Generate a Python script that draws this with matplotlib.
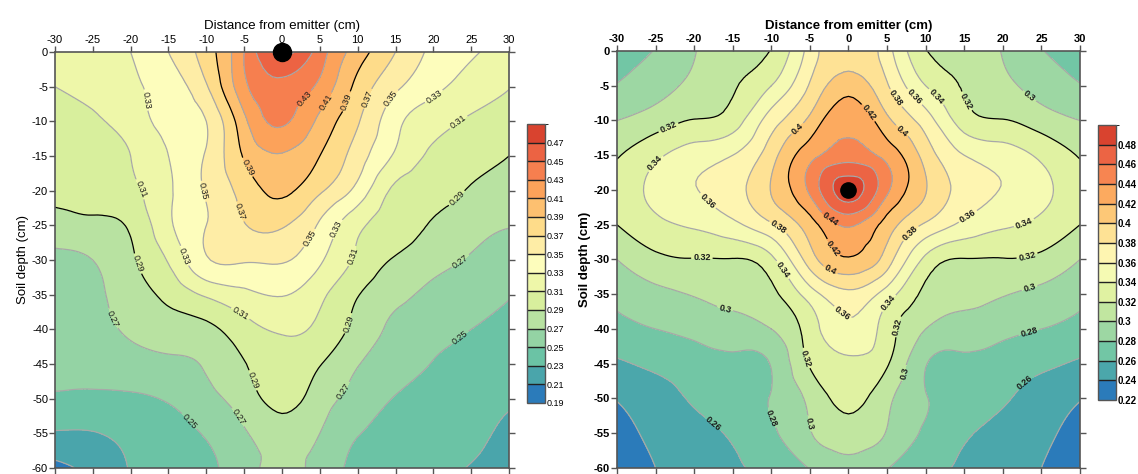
import numpy as np
import matplotlib
matplotlib.use("Agg")
import matplotlib.pyplot as plt
import matplotlib.tri as mtri
from matplotlib.colors import LinearSegmentedColormap, ListedColormap, BoundaryNorm

plt.rcParams['font.family'] = ['Liberation Sans', 'DejaVu Sans']
plt.rcParams['axes.unicode_minus'] = False

# grid nodes (cm)
distance = [-30, -25, -20, -15, -10, -5, 0, 5, 10, 15, 20, 25, 30]
depth = [0, -5, -10, -15, -20, -25, -30, -35, -40, -45, -50, -55, -60]

# soil water content, surface emitter (rows = depth, cols = distance)
theta_surface = [
    [0.320, 0.325, 0.330, 0.350, 0.380, 0.430, 0.475, 0.440, 0.400, 0.370, 0.345, 0.332, 0.324],
    [0.310, 0.315, 0.325, 0.340, 0.368, 0.425, 0.445, 0.425, 0.384, 0.354, 0.335, 0.322, 0.311],
    [0.305, 0.308, 0.319, 0.335, 0.350, 0.405, 0.433, 0.405, 0.372, 0.336, 0.318, 0.307, 0.300],
    [0.300, 0.303, 0.310, 0.330, 0.352, 0.392, 0.408, 0.390, 0.360, 0.327, 0.306, 0.297, 0.290],
    [0.296, 0.298, 0.305, 0.327, 0.352, 0.378, 0.394, 0.373, 0.343, 0.305, 0.297, 0.288, 0.283],
    [0.281, 0.285, 0.293, 0.326, 0.350, 0.369, 0.372, 0.347, 0.315, 0.298, 0.288, 0.277, 0.271],
    [0.266, 0.270, 0.287, 0.312, 0.348, 0.352, 0.352, 0.333, 0.306, 0.288, 0.277, 0.268, 0.260],
    [0.262, 0.266, 0.280, 0.295, 0.313, 0.325, 0.331, 0.315, 0.291, 0.275, 0.265, 0.258, 0.251],
    [0.258, 0.264, 0.273, 0.280, 0.285, 0.302, 0.313, 0.305, 0.283, 0.266, 0.257, 0.250, 0.245],
    [0.253, 0.258, 0.262, 0.266, 0.272, 0.289, 0.299, 0.291, 0.271, 0.260, 0.249, 0.242, 0.237],
    [0.248, 0.246, 0.247, 0.252, 0.264, 0.280, 0.296, 0.280, 0.262, 0.249, 0.243, 0.236, 0.232],
    [0.228, 0.229, 0.235, 0.241, 0.252, 0.268, 0.280, 0.270, 0.251, 0.245, 0.240, 0.234, 0.226],
    [0.205, 0.216, 0.231, 0.239, 0.246, 0.262, 0.276, 0.262, 0.246, 0.242, 0.236, 0.229, 0.222],
]

# soil water content, subsurface emitter at 20 cm
theta_subsurface = [
    [0.272, 0.281, 0.299, 0.311, 0.321, 0.368, 0.398, 0.368, 0.321, 0.311, 0.299, 0.281, 0.272],
    [0.281, 0.292, 0.305, 0.318, 0.340, 0.382, 0.410, 0.382, 0.340, 0.318, 0.305, 0.292, 0.281],
    [0.300, 0.310, 0.321, 0.330, 0.370, 0.405, 0.437, 0.405, 0.370, 0.330, 0.321, 0.310, 0.300],
    [0.318, 0.336, 0.350, 0.360, 0.392, 0.433, 0.450, 0.433, 0.392, 0.360, 0.350, 0.336, 0.318],
    [0.330, 0.345, 0.359, 0.372, 0.401, 0.444, 0.490, 0.444, 0.401, 0.372, 0.359, 0.345, 0.330],
    [0.320, 0.335, 0.343, 0.355, 0.377, 0.411, 0.443, 0.411, 0.377, 0.355, 0.343, 0.335, 0.320],
    [0.300, 0.315, 0.319, 0.319, 0.335, 0.390, 0.418, 0.390, 0.335, 0.319, 0.319, 0.315, 0.300],
    [0.285, 0.295, 0.301, 0.305, 0.315, 0.350, 0.375, 0.350, 0.315, 0.305, 0.301, 0.295, 0.285],
    [0.274, 0.280, 0.286, 0.292, 0.300, 0.330, 0.355, 0.330, 0.300, 0.292, 0.286, 0.280, 0.274],
    [0.257, 0.264, 0.270, 0.275, 0.281, 0.322, 0.336, 0.322, 0.281, 0.275, 0.270, 0.264, 0.257],
    [0.241, 0.252, 0.262, 0.270, 0.281, 0.305, 0.326, 0.305, 0.281, 0.270, 0.262, 0.252, 0.241],
    [0.232, 0.245, 0.254, 0.262, 0.276, 0.299, 0.310, 0.299, 0.276, 0.262, 0.254, 0.245, 0.232],
    [0.225, 0.240, 0.250, 0.258, 0.265, 0.281, 0.297, 0.281, 0.265, 0.258, 0.250, 0.240, 0.225],
]

levels_surface = np.round(np.arange(0.19, 0.4901, 0.02), 2)
levels_subsurface = np.round(np.arange(0.22, 0.5001, 0.02), 2)

emitter_surface = (0, 0)
emitter_subsurface = (0, -20)

# where the contour labels sit
spots_surface = [(-17.7, -6.9), (-18.3, -19.6), (-10.4, -20.1), (-4.7, -16.7), (-5.5, -23),
                 (3.3, -7.1), (5.7, -7.1), (7.9, -6.9), (10.5, -6.4), (14.3, -6.6), (20.2, -6.6),
                 (23.7, -10.7), (23.3, -21.3), (2.8, -26.3), (7, -25.4), (-18.6, -30.4),
                 (-12.7, -29.3), (9, -29.3), (-23.1, -38.8), (-5.9, -38.4), (8.3, -39),
                 (23.6, -30.2), (-4.5, -47.6), (8.3, -49), (23.6, -41.3), (-12.3, -53.3), (-6.4, -53.1)]
spots_subsurface = [(5.8, -7), (8.2, -7), (11, -7), (16.5, -6.5), (23.7, -6.1), (-23.1, -11.6),
                    (-6.1, -11.8), (2.2, -9.2), (6.3, -12.3), (-23.8, -17.6), (-18.1, -21.4),
                    (-2.3, -24), (-9, -25.2), (15.1, -23.1), (22.5, -24), (8, -26.2),
                    (-19, -29.9), (-1.8, -28.2), (-2.1, -30.9), (-8, -31.1), (23, -28.9),
                    (-15.7, -35.6), (-1.3, -38.3), (5.3, -36.4), (6.5, -39.7), (23.5, -34.2),
                    (-4.9, -44), (23.5, -40.9), (7.5, -46.4), (-17.3, -53.3), (-9.2, -52.4),
                    (-4.9, -53.6), (23.2, -48.1)]

# colour ramp, bottom to top
ramp = ["#2b7bba", "#4aa6ab", "#6cc4a5", "#95d4a4", "#b8e2a1", "#d8ef9d", "#eef7a9", "#fdfdbd",
        "#feeda6", "#fedc8a", "#fdc070", "#fca35a", "#f6804f", "#ec6343", "#d9432f"]
surfer = LinearSegmentedColormap.from_list("surfer", ramp)


def draw_panel(fig, ax, cax, Z, levels, emitter, spots, weight, fmt, ms, cb_size):
    n = len(levels) - 1
    cmap = ListedColormap([surfer(i / (n - 1)) for i in range(n)])
    norm = BoundaryNorm(levels, n)

    X, Y = np.meshgrid(distance, depth)
    tri = mtri.Triangulation(X.ravel(), Y.ravel())
    fine_tri, fine_z = mtri.UniformTriRefiner(tri).refine_field(np.ravel(Z), subdiv=3)

    ax.tricontourf(fine_tri, fine_z, levels=levels, cmap=cmap, norm=norm, extend='both')
    line_cols = ['black' if round((lv - levels[0]) * 100) % 10 == 0 else '#a8a8a8' for lv in levels]
    cs = ax.tricontour(fine_tri, fine_z, levels=levels, colors=line_cols, linewidths=0.9)
    txt = ax.clabel(cs, manual=spots, fmt=fmt, fontsize=6.5, inline=True, inline_spacing=2)
    for t in txt:
        t.set_fontweight(weight)
        t.set_color('#1a1a1a')
    ax.plot(emitter[0], emitter[1], 'o', color='black', markersize=ms, clip_on=False, zorder=10)

    ax.set_xlim(-30, 30)
    ax.set_ylim(-60, 0)
    ax.set_xticks(range(-30, 31, 5))
    ax.set_yticks(range(0, -61, -5))
    ax.xaxis.tick_top()
    ax.xaxis.set_label_position('top')
    ax.tick_params(top=True, bottom=True, left=True, right=True, direction='out',
                   labeltop=True, labelbottom=False, labelright=False,
                   length=4, width=1, color='#555555', labelsize=8, pad=1)
    for lab in ax.get_xticklabels() + ax.get_yticklabels():
        lab.set_fontweight(weight)
    for sp in ax.spines.values():
        sp.set_color('#555555')
        sp.set_linewidth(1.2)
    ax.set_xlabel("Distance from emitter (cm)", fontsize=9.5, fontweight=weight, labelpad=4)
    ax.set_ylabel("Soil depth (cm)", fontsize=9.5, fontweight=weight, labelpad=2)

    sm = matplotlib.cm.ScalarMappable(norm=norm, cmap=cmap)
    cb = fig.colorbar(sm, cax=cax, ticks=levels[:-1], drawedges=True)
    cb.ax.set_yticklabels([fmt % lv for lv in levels[:-1]], fontweight=weight)
    cb.ax.tick_params(length=0, labelsize=cb_size, pad=1)
    cb.outline.set_edgecolor('#555555')
    cb.outline.set_linewidth(1)
    cb.dividers.set_color('#222222')
    cb.dividers.set_linewidth(1)


fig = plt.figure(figsize=(11.38, 4.74), dpi=100)
ax1 = fig.add_axes([0.0483, 0.0127, 0.399, 0.8776])
cax1 = fig.add_axes([0.4631, 0.1498, 0.0158, 0.5886])
ax2 = fig.add_axes([0.5422, 0.0127, 0.4068, 0.8797])
cax2 = fig.add_axes([0.9649, 0.1561, 0.0158, 0.5802])

draw_panel(fig, ax1, cax1, theta_surface, levels_surface, emitter_surface,
           spots_surface, 'normal', '%.2f', 13, 6.5)
draw_panel(fig, ax2, cax2, theta_subsurface, levels_subsurface, emitter_subsurface,
           spots_subsurface, 'bold', '%g', 11, 7)

fig.savefig("out.png", dpi=100)
